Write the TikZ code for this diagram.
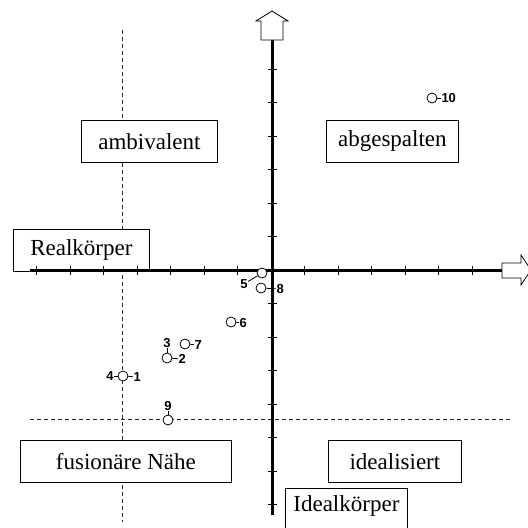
\documentclass[tikz,border=0pt]{standalone}
\usepackage{fontspec}
\setmainfont{Liberation Serif}
\newfontfamily\numfont{Liberation Sans}
\begin{document}
\begin{tikzpicture}[x=1pt,y=-1pt,
  quadbox/.style={draw=black, line width=0.8pt, fill=white, inner sep=0pt,
    anchor=north west, font=\fontsize{23}{26}\selectfont},
  axisline/.style={line width=3pt},
  tickmark/.style={line width=0.9pt},
  guide/.style={line width=0.9pt, dash pattern=on 4pt off 3pt, black!85},
  datapt/.style={circle, draw=black, fill=white, line width=0.8pt,
    minimum size=10pt, inner sep=0pt},
  numlabel/.style={font=\numfont\bfseries\fontsize{13}{13}\selectfont, inner sep=0.3pt},
  leader/.style={line width=0.8pt},
  blockarrow/.style={draw=black, line width=0.8pt, fill=white, line join=miter}
]
\useasboundingbox (0,0) rectangle (528,528);
\clip (0,0) rectangle (528,528);

% dashed guide lines
\draw[guide] (122,30) -- (122,522);
\draw[guide] (30,419) -- (512,419);

% quadrant and axis captions
\node[quadbox, minimum width=136pt, minimum height=42pt] (amb) at (81,120) {ambivalent};
\node[quadbox, minimum width=132pt, minimum height=42pt] (abg) at (326,120) {abgespalten};
\node[quadbox, minimum width=136pt, minimum height=42pt] (real) at (13,229) {Realkörper};
\node[quadbox, minimum width=211pt, minimum height=42pt] (fus) at (20,440) {fusionäre Nähe};
\node[quadbox, minimum width=133pt, minimum height=42pt] (ideal) at (328,440) {idealisiert};
\node[quadbox, minimum width=122pt, minimum height=60pt, text height=16pt, text depth=30pt] (idk) at (285,488) {Idealkörper};

% axes
\draw[axisline] (30,270) -- (502,270);
\draw[axisline] (272,40) -- (272,515);

% tick marks on the horizontal axis
\foreach \k in {-7,...,-1,1,2,...,6}
  \draw[tickmark] ({271+33.5*\k},266) -- ({271+33.5*\k},275);
% tick marks on the vertical axis
\foreach \k in {-6,...,-1,1,2,...,7}
  \draw[tickmark] (268,{270+33.5*\k}) -- (277,{270+33.5*\k});

% block arrow heads
\draw[blockarrow] (261,40) -- (261,21) -- (256,21) -- (272,11) -- (288,21)
  -- (283,21) -- (283,40) -- cycle;
\draw[blockarrow] (502,263) -- (521,263) -- (521,255) -- (531,270) -- (521,285)
  -- (521,278) -- (502,278) -- cycle;

% data points
\node[datapt] (p10) at (432,98) {};
\node[numlabel, anchor=west] (l10) at (441,98) {10};
\draw[leader] (p10) -- (l10);

\node[datapt] (p5) at (262,273) {};
\node[numlabel] (l5) at (244,284) {5};
\draw[leader] (p5) -- (l5);

\node[datapt] (p8) at (261,288) {};
\node[numlabel, anchor=west] (l8) at (276,289) {8};
\draw[leader] (p8) -- (l8);

\node[datapt] (p6) at (231,322) {};
\node[numlabel, anchor=west] (l6) at (239,323) {6};
\draw[leader] (p6) -- (l6);

\node[datapt] (p7) at (185,344) {};
\node[numlabel, anchor=west] (l7) at (194,345) {7};
\draw[leader] (p7) -- (l7);

\node[datapt] (p2) at (167,358) {};
\node[numlabel, anchor=west] (l2) at (178,359) {2};
\node[numlabel, anchor=south] (l3) at (167,348) {3};
\draw[leader] (p2) -- (l2);
\draw[leader] (p2) -- (l3);

\node[datapt] (p1) at (123,376) {};
\node[numlabel, anchor=east] (l4) at (114,376) {4};
\node[numlabel, anchor=west] (l1) at (133,377) {1};
\draw[leader] (p1) -- (l4);
\draw[leader] (p1) -- (l1);

\node[datapt] (p9) at (168,420) {};
\node[numlabel, anchor=south] (l9) at (168,411) {9};
\draw[leader] (p9) -- (l9);
\end{tikzpicture}
\end{document}
